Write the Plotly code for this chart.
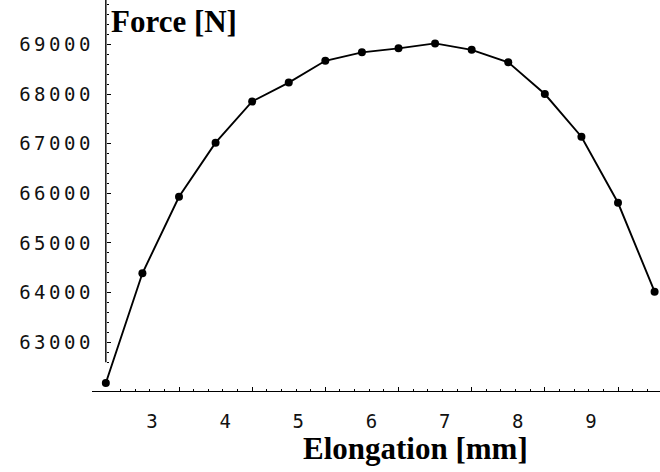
import plotly.graph_objects as go

# Measured elongation vs. tensile force
elongation_mm = [2.0, 2.5, 3.0, 3.5, 4.0, 4.5, 5.0, 5.5, 6.0, 6.5, 7.0, 7.5, 8.0, 8.5, 9.0, 9.5]
force_n = [62180, 64390, 65930, 67020, 67850, 68230, 68670, 68840,
           68920, 69020, 68890, 68640, 68000, 67140, 65810, 64020]

x_ticks = [3, 4, 5, 6, 7, 8, 9]
y_ticks = [63000, 64000, 65000, 66000, 67000, 68000, 69000]
x_minor = [round(2.2 + 0.2 * i, 1) for i in range(37) if abs((2.2 + 0.2 * i) % 1) > 1e-6 and abs((2.2 + 0.2 * i) % 1 - 1) > 1e-6]
y_minor = [v for v in range(62600, 69900, 200) if v % 1000 != 0]

x_range = [1.811, 9.574]
y_range = [62019, 69894]
y_axis_at = 2.0
y_axis_bottom = 62600

tick_font = dict(family="DejaVu Sans Mono", size=19, color="#111")
title_font = dict(family="Liberation Serif", size=31, color="black")

fig = go.Figure()
fig.add_trace(go.Scatter(
    x=elongation_mm, y=force_n, mode="lines+markers",
    line=dict(color="black", width=1.9),
    marker=dict(color="black", size=8),
    cliponaxis=False, showlegend=False,
))

fig.update_layout(
    width=660, height=472,
    margin=dict(l=92, r=0, t=0, b=81),
    paper_bgcolor="white", plot_bgcolor="white",
    xaxis=dict(
        range=x_range, showgrid=False, zeroline=False,
        showline=True, linecolor="black", linewidth=1.4,
        tickmode="array", tickvals=x_ticks, ticktext=[str(v) for v in x_ticks],
        ticks="inside", ticklen=4, tickwidth=1, tickcolor="black",
        minor=dict(tickvals=x_minor, ticks="inside", ticklen=2, tickwidth=1, tickcolor="black"),
        tickfont=tick_font, ticklabelshift=-27, ticklabelstandoff=13,
    ),
    yaxis=dict(
        range=y_range, showgrid=False, zeroline=False, showline=False,
        anchor="free", position=(y_axis_at - x_range[0]) / (x_range[1] - x_range[0]),
        tickmode="array", tickvals=y_ticks,
        ticktext=[f'<span style="letter-spacing:3.5px">{v}</span>' for v in y_ticks],
        ticks="inside", ticklen=4, tickwidth=1, tickcolor="black",
        minor=dict(tickvals=y_minor, ticks="inside", ticklen=2, tickwidth=1, tickcolor="black"),
        tickfont=tick_font, ticklabelstandoff=12,
    ),
)

# Vertical axis line, starting just above the horizontal axis
fig.add_shape(type="line", xref="x", yref="y",
              x0=y_axis_at, x1=y_axis_at, y0=y_axis_bottom, y1=y_range[1],
              line=dict(color="black", width=1.4))

fig.add_annotation(text="<b>Force [N]</b>", xref="paper", yref="paper",
                   x=(109 - 92) / 568, y=1, xanchor="left", yanchor="top",
                   showarrow=False, font=title_font, yshift=-2)
fig.add_annotation(text="<b>Elongation [mm]</b>", xref="paper", yref="paper",
                   x=(415 - 92) / 568, y=-0.148, xanchor="center", yanchor="middle",
                   showarrow=False, font=title_font)

fig.write_html("out.html")
